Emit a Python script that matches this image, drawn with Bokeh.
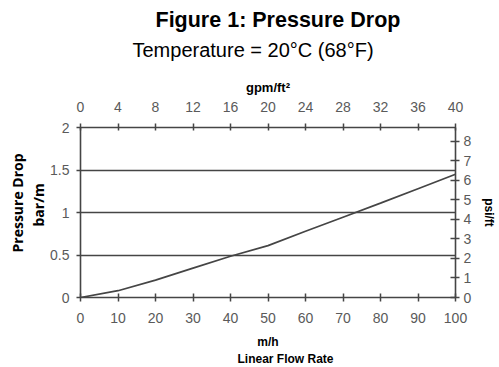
from bokeh.plotting import figure
from bokeh.models import (LinearAxis, Range1d, FixedTicker, NumeralTickFormatter, Title)
from bokeh.embed import file_html
from bokeh.resources import INLINE

# Data
flow_mh = [0, 10, 20, 30, 40, 50, 60, 70, 80, 90, 100]
drop_bar_m = [0, 0.08, 0.205, 0.345, 0.485, 0.61, 0.78, 0.945, 1.11, 1.28, 1.45]

x_ticks = [0, 10, 20, 30, 40, 50, 60, 70, 80, 90, 100]
y_ticks = [0, 0.5, 1, 1.5, 2]
gpm_ticks = [0, 4, 8, 12, 16, 20, 24, 28, 32, 36, 40]
psi_ticks = [0, 1, 2, 3, 4, 5, 6, 7, 8]

title_text = "Figure 1: Pressure Drop"
subtitle_text = "Temperature = 20°C (68°F)"
top_label = "gpm/ft²"
left_label_1 = "Pressure Drop"
left_label_2 = "bar/m"
right_label = "psi/ft"
bottom_label_1 = "m/h"
bottom_label_2 = "Linear Flow Rate"

LINE = "#454545"
TICKC = "#5a5a5a"
FONT = "Liberation Sans"

p = figure(width=499, height=367, output_backend="svg", toolbar_location=None,
           x_range=Range1d(0, 100), y_range=Range1d(0, 2),
           min_border_left=80, min_border_right=44, min_border_top=127, min_border_bottom=70,
           title=None)
p.outline_line_color = None
p.background_fill_color = "white"
p.border_fill_color = "white"

p.extra_x_ranges = {"gpm": Range1d(0, 40)}
p.extra_y_ranges = {"psi": Range1d(0, 8.7)}

def style_axis(ax, ticks):
    ax.ticker = FixedTicker(ticks=ticks)
    ax.axis_line_color = LINE
    ax.axis_line_width = 1.6
    ax.major_tick_line_color = LINE
    ax.major_tick_line_width = 1.5
    ax.minor_tick_line_color = None
    ax.major_label_text_font = FONT
    ax.major_label_text_font_size = "14px"
    ax.major_label_text_color = TICKC
    ax.axis_label_text_font = FONT
    ax.axis_label_text_font_style = "bold"
    ax.axis_label_text_font_size = "12px"
    ax.axis_label_text_color = "black"

xa = p.xaxis[0]
style_axis(xa, x_ticks)
xa.major_tick_in = 4
xa.major_tick_out = 4
xa.major_label_standoff = 11
xa.axis_label = bottom_label_1
xa.axis_label_standoff = 9

ya = p.yaxis[0]
style_axis(ya, y_ticks)
ya.major_tick_in = 0
ya.major_tick_out = 4
ya.major_label_standoff = 7
ya.formatter = NumeralTickFormatter(format="0.[0]")

top = LinearAxis(x_range_name="gpm")
style_axis(top, gpm_ticks)
top.major_tick_in = 3
top.major_tick_out = 4
top.major_label_standoff = 12
top.axis_label = top_label
top.axis_label_text_font_size = "13px"
top.axis_label_standoff = 4
p.add_layout(top, "above")

right = LinearAxis(y_range_name="psi")
style_axis(right, psi_ticks)
right.major_tick_in = 5
right.major_tick_out = 4
right.major_label_standoff = 4
right.axis_label = right_label
right.axis_label_standoff = 8
p.add_layout(right, "right")

p.xgrid.grid_line_color = None
p.ygrid.ticker = FixedTicker(ticks=y_ticks)
p.ygrid.grid_line_color = LINE
p.ygrid.grid_line_width = 1.6

p.line(flow_mh, drop_bar_m, line_color=LINE, line_width=1.7)

# texts above the plot (first added sits nearest the plot)
p.add_layout(Title(text=subtitle_text, align="left", offset=52, text_font=FONT,
                   text_font_size="20px", text_font_style="normal", text_color="black",
                   standoff=0, padding=dict(left=0, right=0, top=0, bottom=16)), "above")
p.add_layout(Title(text=title_text, align="left", offset=75, text_font=FONT,
                   text_font_size="21.5px", text_font_style="bold",
                   text_color="black", standoff=10), "above")

# texts left of the plot (first added sits nearest the plot)
p.add_layout(Title(text=left_label_2, align="left", offset=71, text_font="Open Sans",
                   text_font_size="14px", text_font_style="bold",
                   text_color="black", standoff=0), "left")
p.add_layout(Title(text=left_label_1, align="left", offset=45, text_font="Open Sans",
                   text_font_size="14px", text_font_style="bold",
                   text_color="black", standoff=0), "left")

# second line below the plot
p.add_layout(Title(text=bottom_label_2, align="left", offset=157, text_font=FONT,
                   text_font_size="12px", text_font_style="bold", vertical_align="top",
                   text_color="black", standoff=0), "below")

open("out.html", "w").write(file_html(p, INLINE))
